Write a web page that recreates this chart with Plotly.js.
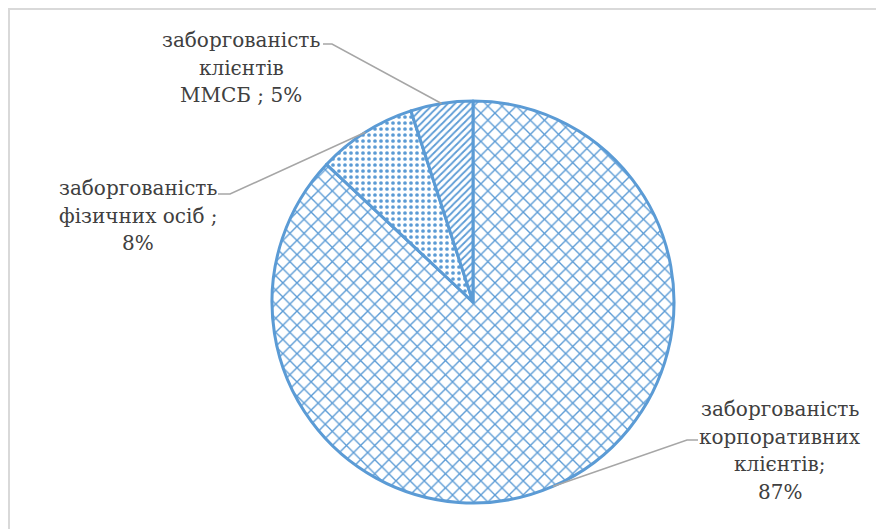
<!DOCTYPE html>
<html>
<head>
<meta charset="utf-8">
<script src="https://cdn.plot.ly/plotly-3.0.1.min.js"></script>
<style>html,body{margin:0;padding:0;background:#fff;}#chart{width:876px;height:529px;}</style>
</head>
<body>
<div id="chart"></div>
<script>
// Data
const categories = ["заборгованість корпоративних клієнтів", "заборгованість фізичних осіб", "заборгованість клієнтів ММСБ"];
const labelLines = [
  ["заборгованість", "корпоративних", "клієнтів;", "87%"],
  ["заборгованість", "фізичних осіб ;", "8%"],
  ["заборгованість", "клієнтів", "ММСБ ; 5%"]
];
const values = [87, 8, 5];
const patterns = ["x", ".", "/"];

const W = 876, H = 529;
const cx = 473, cy = 302, R = 201;
const lineGap = 27.5;
// label placement (pixels): text centre x, first line centre y, elbow
const labelPos = [
  {tx: 780, ty: 409, ex0: 698, ex1: 687, ey: 440},
  {tx: 138, ty: 188, ex0: 218, ex1: 230, ey: 194},
  {tx: 241, ty: 40, ex0: 323, ex1: 332, ey: 44}
];

const total = values.reduce((a, b) => a + b, 0);
const px = x => x / W, py = y => 1 - y / H;
const font = {family: 'DejaVu Serif', size: 20, color: '#404040'};

const annotations = [];
const shapes = [];
let cum = 0;
values.forEach((v, i) => {
  const mid = (cum + v / 2) / total * 2 * Math.PI;
  cum += v;
  const tipX = cx + R * Math.sin(mid);
  const tipY = cy - R * Math.cos(mid);
  const p = labelPos[i];
  labelLines[i].forEach((t, k) => {
    annotations.push({
      x: px(p.tx), y: py(p.ty + k * lineGap), xref: 'paper', yref: 'paper',
      text: t, showarrow: false, align: 'center',
      xanchor: 'center', yanchor: 'middle', font: font
    });
  });
  shapes.push({
    type: 'path', xref: 'paper', yref: 'paper',
    path: `M ${px(p.ex0)} ${py(p.ey)} L ${px(p.ex1)} ${py(p.ey)} L ${px(tipX)} ${py(tipY)}`,
    line: {color: '#a6a6a6', width: 1.5}
  });
});
shapes.push({
  type: 'rect', xref: 'paper', yref: 'paper',
  x0: px(9), x1: 1.2, y0: -0.2, y1: py(9),
  line: {color: '#d9d9d9', width: 2}
});

const trace = {
  type: 'pie',
  labels: categories,
  values: values,
  sort: false,
  direction: 'clockwise',
  rotation: 0,
  textinfo: 'none',
  hoverinfo: 'skip',
  showlegend: false,
  domain: {x: [px(cx - R), px(cx + R)], y: [py(cy + R), py(cy - R)]},
  marker: {
    colors: ['#ffffff', '#ffffff', '#ffffff'],
    line: {color: '#5b9bd5', width: 3},
    pattern: {
      shape: patterns,
      fgcolor: '#5b9bd5',
      bgcolor: '#ffffff',
      size: [10, 6, 5],
      solidity: [0.25, 0.3, 0.35]
    }
  }
};

const layout = {
  width: W, height: H,
  margin: {l: 0, r: 0, t: 0, b: 0},
  paper_bgcolor: '#ffffff',
  showlegend: false,
  annotations: annotations,
  shapes: shapes
};

Plotly.newPlot('chart', [trace], layout, {displayModeBar: false, staticPlot: true});
</script>
</body>
</html>
